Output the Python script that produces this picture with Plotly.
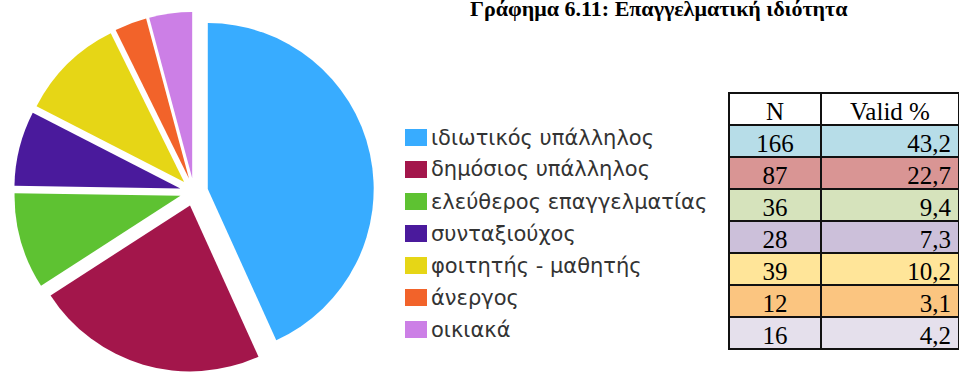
import plotly.graph_objects as go

# Occupational status: counts and valid percentages
categories = [
    "ιδιωτικός υπάλληλος",
    "δημόσιος υπάλληλος",
    "ελεύθερος επαγγελματίας",
    "συνταξιούχος",
    "φοιτητής - μαθητής",
    "άνεργος",
    "οικιακά",
]
counts = [166, 87, 36, 28, 39, 12, 16]
valid_pct = [43.2, 22.7, 9.4, 7.3, 10.2, 3.1, 4.2]

slice_colors = ["#38acff", "#a3164b", "#5ec232", "#4a1a9c", "#e6d616", "#f2632a", "#cc7fe6"]
row_colors = ["#b7dde8", "#d99594", "#d6e3bc", "#ccc0da", "#ffe599", "#fbc580", "#e5e0ec"]

W, H = 959, 372


def px_x(x):
    return x / W


def px_y(y):
    return 1 - y / H


fig = go.Figure()

# Exploded pie, clockwise from 12 o'clock
fig.add_trace(go.Pie(
    labels=categories,
    values=counts,
    sort=False,
    direction="clockwise",
    rotation=0,
    pull=[0.085] * len(counts),
    marker=dict(colors=slice_colors, line=dict(width=0)),
    textinfo="none",
    hoverinfo="label+value+percent",
    showlegend=False,
    domain=dict(x=[px_x(13), px_x(375)], y=[0, px_y(12)]),
))

# Frequency table
serif = "Liberation Serif, Times New Roman, serif"
fig.add_trace(go.Table(
    domain=dict(x=[px_x(729), 1.0], y=[0, px_y(93)]),
    columnwidth=[92, 138],
    header=dict(
        values=["N", "Valid %"],
        fill_color="white",
        line=dict(color="#111111", width=2),
        align="center",
        font=dict(family=serif, size=25, color="black"),
        height=32,
    ),
    cells=dict(
        values=[[str(c) for c in counts], [f"{p:.1f}".replace(".", ",") for p in valid_pct]],
        fill_color=[row_colors, row_colors],
        line=dict(color="#111111", width=2),
        align=["center", "right"],
        font=dict(family=serif, size=25, color="black"),
        height=32,
    ),
))

# Legend: colour swatches with labels
shapes = []
annotations = []
sw_x, sw_y0, sw_w, sw_h, step = 405, 129, 22, 17, 32
for i, (lab, col) in enumerate(zip(categories, slice_colors)):
    y0 = sw_y0 + i * step
    shapes.append(dict(
        type="rect", xref="paper", yref="paper",
        x0=px_x(sw_x), x1=px_x(sw_x + sw_w),
        y0=px_y(y0 + sw_h), y1=px_y(y0),
        fillcolor=col, line=dict(width=0),
    ))
    annotations.append(dict(
        xref="paper", yref="paper",
        x=px_x(sw_x + sw_w + 2), y=px_y(y0 + sw_h / 2),
        xanchor="left", yanchor="middle",
        text=lab, showarrow=False,
        font=dict(family="DejaVu Sans, Verdana, sans-serif", size=21, color="#333333"),
    ))

# Title
annotations.append(dict(
    xref="paper", yref="paper",
    x=px_x(659), y=px_y(9),
    xanchor="center", yanchor="middle",
    text="<b>Γράφημα 6.11: Επαγγελματική ιδιότητα</b>",
    showarrow=False,
    font=dict(family=serif, size=22, color="black"),
))

fig.update_layout(
    width=W, height=H,
    margin=dict(l=0, r=0, t=0, b=0),
    paper_bgcolor="white",
    plot_bgcolor="white",
    shapes=shapes,
    annotations=annotations,
)

fig.write_html("out.html")
